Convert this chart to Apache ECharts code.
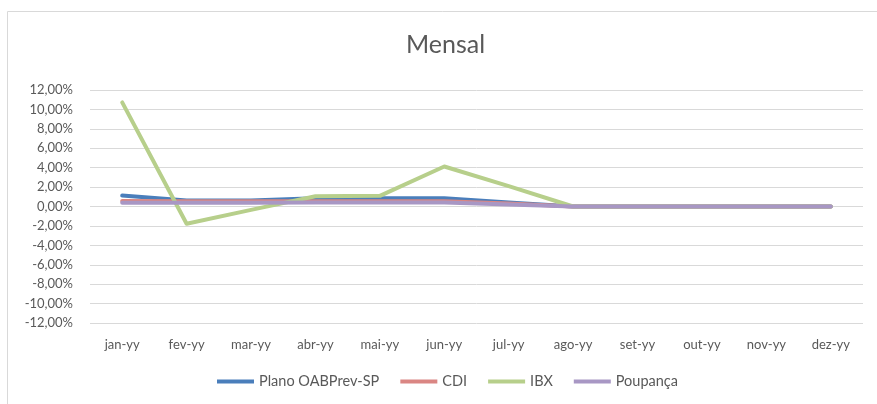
<!DOCTYPE html>
<html>
<head>
<meta charset="utf-8">
<script src="https://cdn.jsdelivr.net/npm/echarts@6/dist/echarts.min.js"></script>
<style>
  html, body { margin: 0; padding: 0; background: #fff; }
  #mensal { width: 877px; height: 404px; }
</style>
</head>
<body>
<div id="mensal"></div>
<script>
// meses
var meses = ['jan-yy', 'fev-yy', 'mar-yy', 'abr-yy', 'mai-yy', 'jun-yy', 'jul-yy', 'ago-yy', 'set-yy', 'out-yy', 'nov-yy', 'dez-yy'];
// rentabilidade mensal (%)
var plano = [1.13, 0.62, 0.62, 0.85, 0.85, 0.85, 0.4, 0, 0, 0, 0, 0];
var cdi = [0.57, 0.55, 0.55, 0.55, 0.55, 0.55, 0.3, 0, 0, 0, 0, 0];
var ibx = [10.72, -1.78, -0.35, 1.05, 1.1, 4.12, 2.1, 0, 0, 0, 0, 0];
var poupanca = [0.38, 0.38, 0.38, 0.4, 0.4, 0.42, 0.2, 0, 0, 0, 0, 0];

var fonte = 'Lato, "Open Sans", sans-serif';

function linha(nome, dados, cor) {
    return {
        name: nome,
        type: 'line',
        data: dados,
        symbol: 'none',
        lineStyle: { width: 4, color: cor, cap: 'round', join: 'round' },
        itemStyle: { color: cor }
    };
}

var myChart = echarts.init(document.getElementById('mensal'));
var option = {
    animation: false,
    title: {
        text: 'Mensal',
        left: 401,
        top: 27,
        textStyle: { color: '#595959', fontSize: 25, fontWeight: 'normal', fontFamily: fonte }
    },
    graphic: [{
        type: 'rect',
        shape: { x: 7.5, y: 11.5, width: 900, height: 420 },
        style: { fill: 'none', stroke: '#D9D9D9', lineWidth: 1 },
        silent: true
    }],
    legend: {
        bottom: 10,
        left: 212,
        icon: 'rect',
        itemWidth: 37,
        itemHeight: 4,
        itemGap: 21,
        textStyle: { color: '#595959', fontSize: 14.5, fontFamily: fonte },
        data: ['Plano OABPrev-SP', 'CDI', 'IBX', 'Poupança']
    },
    grid: { left: 90, right: 14, top: 90, bottom: 81 },
    xAxis: {
        type: 'category',
        data: meses,
        boundaryGap: true,
        axisLine: { onZero: false, show: false },
        axisTick: { show: false },
        axisLabel: { color: '#595959', fontSize: 13, margin: 15, interval: 0, fontFamily: fonte }
    },
    yAxis: {
        type: 'value',
        min: -12,
        max: 12,
        interval: 2,
        axisLine: { show: false },
        axisTick: { show: false },
        axisLabel: {
            color: '#595959',
            fontSize: 13,
            margin: 17,
            fontFamily: fonte,
            formatter: function (v) { return v.toFixed(2).replace('.', ',') + '%'; }
        },
        splitLine: { lineStyle: { color: '#D9D9D9', width: 1 } }
    },
    series: [
        linha('Plano OABPrev-SP', plano, '#4A7EBB'),
        linha('CDI', cdi, '#DA8683'),
        linha('IBX', ibx, '#B7CF8B'),
        linha('Poupança', poupanca, '#A897C4')
    ]
};
myChart.setOption(option);
</script>
</body>
</html>
